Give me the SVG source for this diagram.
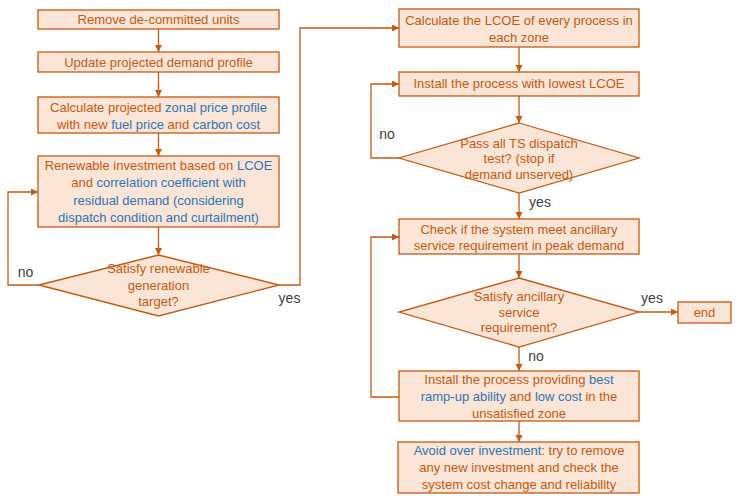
<svg xmlns="http://www.w3.org/2000/svg" width="738" height="504" viewBox="0 0 738 504">
<defs>
<style>
.box{fill:#FBE5D6;stroke:#C55A11;stroke-width:1.3}
.t{font-family:"Liberation Sans",Arial,sans-serif;font-size:13px;fill:#C55A11;text-anchor:middle}
.b{fill:#2E75B6}
.lbl{font-family:"Liberation Sans",Arial,sans-serif;font-size:14px;fill:#404040;text-anchor:middle}
.c{fill:none;stroke:#C55A11;stroke-width:1.3;marker-end:url(#ah)}
</style>
<marker id="ah" markerUnits="userSpaceOnUse" markerWidth="8" markerHeight="8" refX="7" refY="3.5" orient="auto">
<path d="M0,0 L7,3.5 L0,7 Z" fill="#C55A11"/>
</marker>
</defs>
<rect width="738" height="504" fill="#ffffff"/>

<g id="connectors">
<path class="c" d="M158.5,29 V52"/>
<path class="c" d="M158.5,72 V97"/>
<path class="c" d="M158.5,133 V156"/>
<path class="c" d="M158.5,227 V255"/>
<path class="c" d="M39,285 H8 V192 H38"/>
<path class="c" d="M279,285 H300 V28 H399"/>
<path class="c" d="M519,47 V72"/>
<path class="c" d="M519,96 V123"/>
<path class="c" d="M399,158 H371 V84 H399"/>
<path class="c" d="M519,193 V219"/>
<path class="c" d="M519,254 V278"/>
<path class="c" d="M639,312 H678"/>
<path class="c" d="M519,347 V371"/>
<path class="c" d="M399,397 H371 V237 H399"/>
<path class="c" d="M519,421 V442"/>
<text class="lbl" x="25.5" y="277">no</text>
<text class="lbl" x="289.5" y="303">yes</text>
<text class="lbl" x="387" y="139">no</text>
<text class="lbl" x="540" y="207">yes</text>
<text class="lbl" x="652" y="303">yes</text>
<text class="lbl" x="536" y="361">no</text>
</g>

<g id="n1">
<rect class="box" x="38" y="10" width="241" height="19"/>
<text class="t" x="158.5" y="24">Remove de-committed units</text>
</g>
<g id="n2">
<rect class="box" x="38" y="52" width="241" height="20"/>
<text class="t" x="158.5" y="66.5">Update projected demand profile</text>
</g>
<g id="n3">
<rect class="box" x="38" y="97" width="241" height="36"/>
<text class="t" x="158.5" y="111.5">Calculate projected <tspan class="b">zonal price profile</tspan></text>
<text class="t" x="158.5" y="128.5">with new <tspan class="b">fuel price</tspan> and <tspan class="b">carbon cost</tspan></text>
</g>
<g id="n4">
<rect class="box" x="38" y="156" width="241" height="71"/>
<text class="t" x="158.5" y="170">Renewable investment based on <tspan class="b">LCOE</tspan></text>
<text class="t" x="158.5" y="187.3">and <tspan class="b">correlation coefficient with</tspan></text>
<text class="t" x="158.5" y="204.6"><tspan class="b">residual demand (considering</tspan></text>
<text class="t" x="158.5" y="222"><tspan class="b">dispatch condition and curtailment)</tspan></text>
</g>
<g id="d1">
<polygon class="box" points="158.5,255 279,285 158.5,316 39,285"/>
<text class="t" x="158.5" y="272.5">Satisfy renewable</text>
<text class="t" x="158.5" y="289.5">generation</text>
<text class="t" x="158.5" y="305.5">target?</text>
</g>

<g id="r1">
<rect class="box" x="399" y="9" width="240" height="38"/>
<text class="t" x="519" y="24.5">Calculate the LCOE of every process in</text>
<text class="t" x="519" y="41.5">each zone</text>
</g>
<g id="r2">
<rect class="box" x="399" y="72" width="240" height="24"/>
<text class="t" x="519" y="88">Install the process with lowest LCOE</text>
</g>
<g id="d2">
<polygon class="box" points="519,123 639,158 519,193 399,158"/>
<text class="t" x="519" y="147.5">Pass all TS dispatch</text>
<text class="t" x="519" y="162.5">test? (stop if</text>
<text class="t" x="519" y="178.5">demand unserved)</text>
</g>
<g id="r3">
<rect class="box" x="399" y="219" width="240" height="35"/>
<text class="t" x="519" y="233.5">Check if the system meet ancillary</text>
<text class="t" x="519" y="250.2">service requirement in peak demand</text>
</g>
<g id="d3">
<polygon class="box" points="519,278 639,312 519,347 399,312"/>
<text class="t" x="519" y="301.2">Satisfy ancillary</text>
<text class="t" x="519" y="316.5">service</text>
<text class="t" x="519" y="331.8">requirement?</text>
</g>
<g id="end">
<rect class="box" x="678" y="302" width="53" height="21"/>
<text class="t" x="704.5" y="317">end</text>
</g>
<g id="r4">
<rect class="box" x="399" y="371" width="240" height="50"/>
<text class="t" x="519" y="383.5">Install the process providing <tspan class="b">best</tspan></text>
<text class="t" x="519" y="400.5"><tspan class="b">ramp-up ability</tspan> and <tspan class="b">low cost</tspan> in the</text>
<text class="t" x="519" y="417.5">unsatisfied zone</text>
</g>
<g id="r5">
<rect class="box" x="398" y="442" width="241" height="51"/>
<text class="t" x="519" y="454.5"><tspan class="b">Avoid over investment</tspan>: try to remove</text>
<text class="t" x="519" y="471.8">any new investment and check the</text>
<text class="t" x="519" y="489.2">system cost change and reliability</text>
</g>
</svg>
